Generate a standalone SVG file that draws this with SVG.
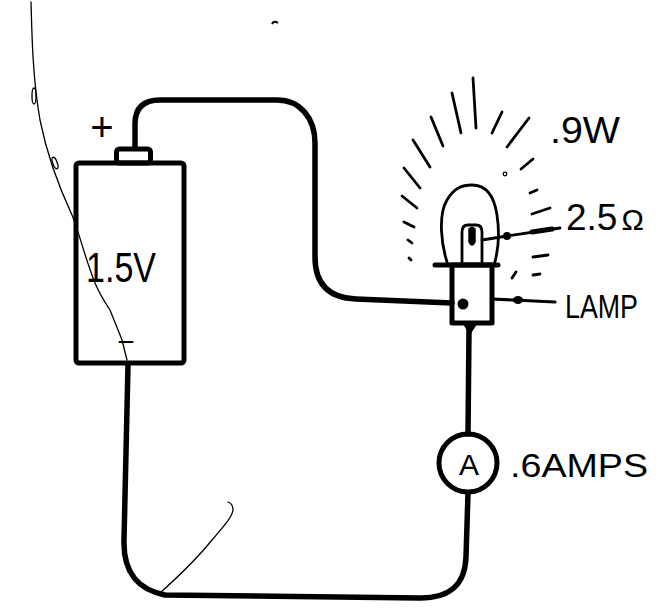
<svg xmlns="http://www.w3.org/2000/svg" width="663" height="610" viewBox="0 0 663 610">
  <style>
    .wire { fill: none; stroke: #000; stroke-width: 5.5; stroke-linecap: round; stroke-linejoin: round; }
    .thick { fill: none; stroke: #000; stroke-width: 5; stroke-linejoin: round; }
    .thin { fill: none; stroke: #000; stroke-width: 2.8; stroke-linecap: round; }
    .ray { fill: none; stroke: #000; stroke-width: 2.8; stroke-linecap: round; }
    .hair { fill: none; stroke: #000; stroke-width: 1.3; stroke-linecap: round; }
    .lbl { font-family: "Liberation Sans", Arial, sans-serif; fill: #000; }
  </style>

  <rect width="663" height="610" fill="#fff"/>

  <!-- stray pen strokes on the sheet -->
  <g id="marks">
    <path class="hair" d="M31,2 C32,40 33,80 40,120 C46,150 58,185 72,215 C80,235 84,255 95,283 C100,295 106,304 110,310 C114,320 119,332 122,340 L127,360"/>
    <ellipse cx="34" cy="96" rx="2" ry="8" class="hair"/>
    <ellipse cx="55" cy="163" rx="2.2" ry="6" class="hair" transform="rotate(-20 55 163)"/>
    <path class="hair" d="M160,593 C180,575 200,555 212,540 C222,528 232,518 233,510 C233,505 231,503 228,502"/>
    <path fill="none" stroke="#000" stroke-width="2" d="M272,24 Q274,20 278,23"/>
  </g>

  <!-- wiring -->
  <g id="connectors">
    <path class="wire" d="M135,148 L135,124 Q135,100 160,100 L277,100 C300,100 315,118 315,143 L315,257 C315,285 330,298 356,299 L452,303"/>
    <path class="wire" d="M128,365 L124,540 C123,575 140,590 165,595 L420,598 C450,598 465,585 466,557 L468,493"/>
    <path class="wire" d="M468,434 L469,330"/>
  </g>

  <!-- cell -->
  <g id="battery">
    <rect x="76" y="163" width="108" height="200" rx="3" class="thick" fill="#fff"/>
    <rect x="116.5" y="149" width="34" height="14" rx="3" class="thick" fill="#fff"/>
    <text class="lbl" x="102" y="141" font-size="40" text-anchor="middle">+</text>
    <text class="lbl" x="86" y="282" font-size="42" textLength="70" lengthAdjust="spacingAndGlyphs">1.5V</text>
    <text class="lbl" x="126" y="352" font-size="30" text-anchor="middle">−</text>
  </g>

  <!-- lamp -->
  <g id="lamp">
    <g id="glow">
      <line class="ray" x1="473" y1="78" x2="476" y2="128"/>
      <line class="ray" x1="452" y1="93" x2="461" y2="133"/>
      <line class="ray" x1="431" y1="117" x2="443" y2="146"/>
      <line class="ray" x1="413" y1="140" x2="430" y2="167"/>
      <line class="ray" x1="404" y1="168" x2="420" y2="188"/>
      <line class="ray" x1="402" y1="196" x2="417" y2="208"/>
      <line class="ray" x1="404" y1="222" x2="414" y2="227"/>
      <line class="ray" x1="408" y1="240" x2="412" y2="243"/>
      <line class="ray" x1="409" y1="258" x2="411" y2="260"/>
      <line class="ray" x1="502" y1="112" x2="492" y2="133"/>
      <line class="ray" x1="529" y1="118" x2="507" y2="147"/>
      <line class="ray" x1="533" y1="159" x2="521" y2="169"/>
      <circle cx="505" cy="174" r="1.8" class="hair"/>
      <line class="ray" x1="530" y1="193" x2="537" y2="190"/>
      <line class="ray" x1="532" y1="214" x2="550" y2="208"/>
      <line class="ray" x1="533" y1="257" x2="548" y2="255"/>
      <line class="ray" x1="533" y1="275" x2="540" y2="274"/>
      <line class="ray" x1="512" y1="278" x2="516" y2="272"/>
    </g>
    <path class="thin" d="M448,265 C441,245 438,215 447,200 C454,188 462,185 472,185 C486,185 494,195 497,215 C500,235 498,252 494,265"/>
    <path class="thin" d="M462,265 L462,232 Q462,225 468,225 L476,225 Q482,225 482,232 L482,265"/>
    <path fill="#000" stroke="#000" stroke-width="1.5" d="M469,229 L469,242 Q472,248 475,242 L475,229 Q472,226 469,229 Z"/>
    <line x1="435" y1="265" x2="498" y2="265" stroke="#000" stroke-width="5" stroke-linecap="round"/>
    <rect x="452" y="265" width="40" height="58" class="thick" fill="#fff"/>
    <path d="M461,321 L479,321 L470,335 Z" fill="#000"/>
    <circle cx="463" cy="304" r="5.5" fill="#000"/>
  </g>

  <!-- meter -->
  <g id="ammeter">
    <circle cx="468" cy="463" r="29" class="thick" fill="#fff"/>
    <text class="lbl" x="469" y="475" font-size="30" text-anchor="middle">A</text>
  </g>

  <!-- annotations -->
  <g id="labels">
    <text class="lbl" x="550" y="143" font-size="36" textLength="70" lengthAdjust="spacingAndGlyphs">.9W</text>

    <path class="thin" d="M482,240 L507,236 L560,228"/>
    <circle cx="507" cy="236" r="4" fill="#000"/>
    <line x1="532" y1="232" x2="552" y2="229" stroke="#000" stroke-width="5" stroke-linecap="round"/>
    <text class="lbl" x="566" y="230" font-size="37">2.5<tspan dx="4" font-size="30">Ω</tspan></text>

    <path fill="none" stroke="#000" stroke-width="3.2" stroke-linecap="round" d="M492,299 L555,302"/>
    <ellipse cx="518" cy="300" rx="5" ry="4" fill="#000"/>
    <text class="lbl" x="565" y="318" font-size="34" textLength="73" lengthAdjust="spacingAndGlyphs">LAMP</text>

    <text class="lbl" x="510" y="477" font-size="33" textLength="138" lengthAdjust="spacingAndGlyphs">.6AMPS</text>
  </g>
</svg>
